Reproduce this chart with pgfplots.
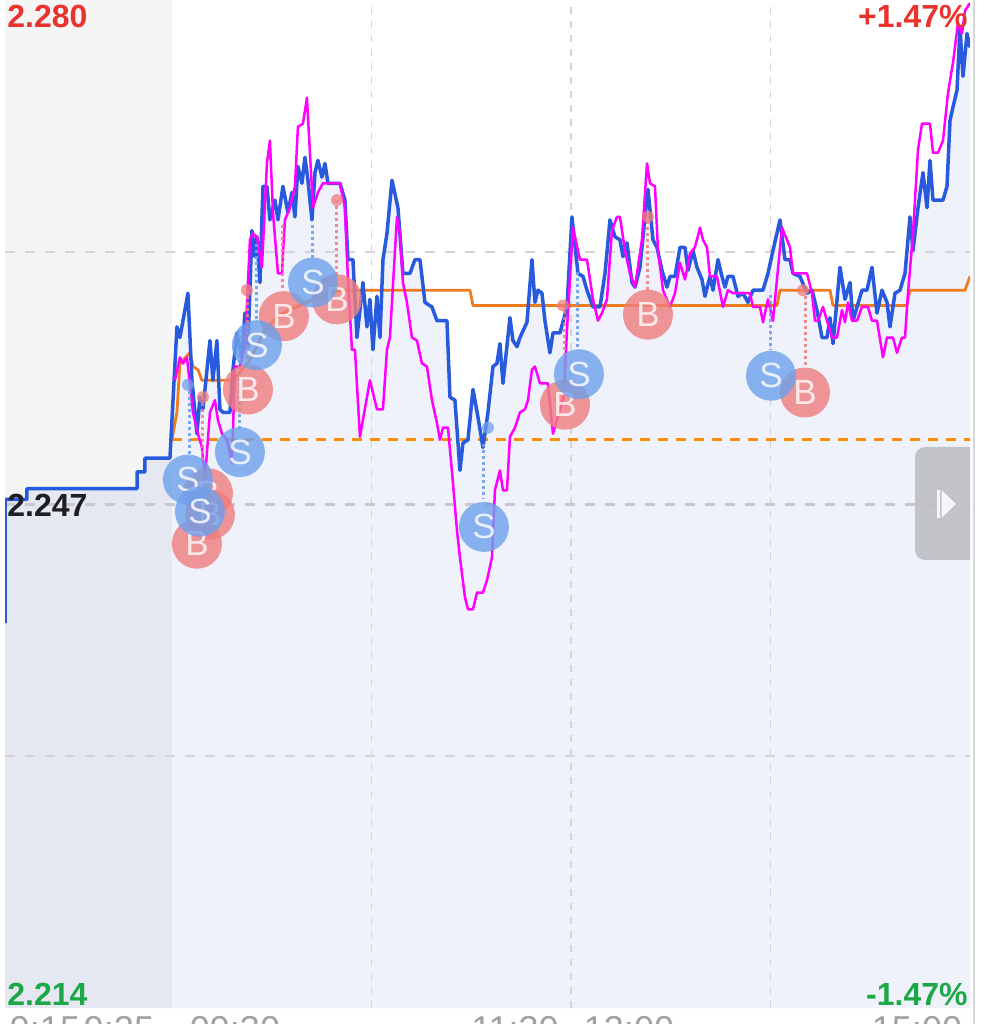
\documentclass[border=0pt]{standalone}
\usepackage{fontspec}
\setmainfont{Liberation Sans}
\usepackage{pgfplots}
\pgfplotsset{compat=1.18}
\usepackage{pgfplotstable}

\definecolor{lav}{RGB}{239,242,251}
\definecolor{pblue}{RGB}{40,90,222}
\definecolor{pmag}{RGB}{255,0,255}
\definecolor{pora}{RGB}{240,122,30}
\definecolor{dora}{RGB}{255,140,10}
\definecolor{sblue}{RGB}{110,160,235}
\definecolor{bred}{RGB}{240,125,125}
\definecolor{gridc}{RGB}{212,212,218}
\definecolor{midc}{RGB}{200,200,208}
\definecolor{upred}{RGB}{232,52,44}
\definecolor{dngreen}{RGB}{28,168,70}
\definecolor{axgray}{RGB}{160,160,165}
\definecolor{darklbl}{RGB}{30,30,35}
\definecolor{panelc}{RGB}{215,215,220}
\definecolor{handlec}{RGB}{188,190,196}

\pgfplotstableread{
m p
-50.2 2.2392
-50.2 2.2473
-43.6 2.2473
-43.6 2.2480
-10.5 2.2480
-10.5 2.2491
-8.1 2.2491
-8.1 2.2500
-0.6 2.2500
1.50 2.2586
2.41 2.2579
4.81 2.2608
6.02 2.2551
7.52 2.2516
8.42 2.2540
9.32 2.2532
11.43 2.2577
12.33 2.2551
13.53 2.2577
14.44 2.2532
15.34 2.2530
17.44 2.2530
18.35 2.2558
19.55 2.2582
21.05 2.2566
21.95 2.2595
22.86 2.2573
24.06 2.2649
24.96 2.2632
25.56 2.2645
26.47 2.2615
27.37 2.2678
28.57 2.2678
29.47 2.2656
30.98 2.2669
31.88 2.2656
33.38 2.2678
34.89 2.2661
36.09 2.2674
36.99 2.2658
37.89 2.2691
39.10 2.2680
40.00 2.2697
40.90 2.2682
42.11 2.2656
43.01 2.2687
43.91 2.2695
45.11 2.2684
46.02 2.2693
46.92 2.2680
50.53 2.2680
52.03 2.2669
52.93 2.2630
54.44 2.2630
55.64 2.2579
57.44 2.2615
58.65 2.2586
59.55 2.2604
60.45 2.2571
61.65 2.2606
62.56 2.2579
63.46 2.2630
64.66 2.2647
66.17 2.2682
67.97 2.2664
69.47 2.2621
71.58 2.2621
73.08 2.2630
74.59 2.2630
76.09 2.2602
78.20 2.2599
79.70 2.2590
82.71 2.2590
83.61 2.2540
85.11 2.2538
86.62 2.2492
87.52 2.2510
89.02 2.2512
90.53 2.2545
92.03 2.2527
93.53 2.2507
95.04 2.2530
96.54 2.2560
97.74 2.2562
98.65 2.2575
99.55 2.2549
101.65 2.2592
102.56 2.2577
103.76 2.2573
104.66 2.2579
106.77 2.2589
108.27 2.2630
109.17 2.2602
110.08 2.2610
111.28 2.2608
112.18 2.2590
113.68 2.2569
114.59 2.2582
116.69 2.2582
118.80 2.2599
120.30 2.2658
122.11 2.2621
123.61 2.2619
124.81 2.2610
126.62 2.2599
128.72 2.2599
130.23 2.2621
131.73 2.2656
133.23 2.2645
134.74 2.2643
135.64 2.2632
136.84 2.2641
138.35 2.2615
139.25 2.2612
140.75 2.2625
142.26 2.2658
143.16 2.2676
144.66 2.2643
145.86 2.2638
147.37 2.2623
148.87 2.2612
149.77 2.2619
151.28 2.2619
152.78 2.2638
154.29 2.2638
155.19 2.2623
156.69 2.2636
157.89 2.2625
159.40 2.2617
160.30 2.2606
161.80 2.2619
162.71 2.2610
164.21 2.2630
165.41 2.2619
166.32 2.2612
167.22 2.2619
168.72 2.2619
170.23 2.2606
171.73 2.2608
173.23 2.2602
174.74 2.2610
177.74 2.2610
179.25 2.2621
180.75 2.2636
182.86 2.2656
184.36 2.2630
185.86 2.2630
186.77 2.2621
188.87 2.2619
190.98 2.2608
192.48 2.2610
193.98 2.2597
195.49 2.2579
196.99 2.2579
197.89 2.2592
198.80 2.2575
200.90 2.2625
202.41 2.2604
203.91 2.2615
204.81 2.2590
206.02 2.2599
207.52 2.2610
209.02 2.2610
210.53 2.2625
212.03 2.2595
213.53 2.2610
215.04 2.2602
215.94 2.2586
217.44 2.2608
218.95 2.2610
220.45 2.2621
221.95 2.2658
222.86 2.2636
224.36 2.2664
225.86 2.2687
227.07 2.2664
227.97 2.2695
228.87 2.2669
231.88 2.2669
233.08 2.2678
233.98 2.2721
234.89 2.2730
236.09 2.2741
236.99 2.2782
237.89 2.2750
239.10 2.2778
240.00 2.2769
}\bluedata

\pgfplotstableread{
m p
0.90 2.2551
2.41 2.2566
3.31 2.2562
4.51 2.2566
6.32 2.2530
7.82 2.2516
9.02 2.2507
9.92 2.2486
11.43 2.2530
12.93 2.2538
13.83 2.2525
15.04 2.2516
16.54 2.2512
18.05 2.2497
18.95 2.2560
20.45 2.2560
21.95 2.2573
23.46 2.2643
24.36 2.2647
25.56 2.2645
27.07 2.2625
28.57 2.2693
29.47 2.2708
30.38 2.2661
31.88 2.2621
33.08 2.2621
33.98 2.2656
35.49 2.2664
36.99 2.2678
37.89 2.2717
39.40 2.2719
40.60 2.2736
41.50 2.2700
42.41 2.2664
43.91 2.2674
45.41 2.2680
50.53 2.2680
52.03 2.2664
52.93 2.2617
54.14 2.2571
55.04 2.2571
56.54 2.2514
59.55 2.2551
61.65 2.2532
63.46 2.2532
64.66 2.2571
65.56 2.2579
67.67 2.2658
68.57 2.2647
69.47 2.2615
70.68 2.2602
72.18 2.2579
73.68 2.2577
75.19 2.2562
76.69 2.2560
78.20 2.2538
79.70 2.2523
80.60 2.2512
81.50 2.2520
83.01 2.2520
84.51 2.2484
85.71 2.2453
86.62 2.2435
88.12 2.2409
89.02 2.2401
90.53 2.2401
91.73 2.2412
93.53 2.2412
94.74 2.2420
96.24 2.2435
97.14 2.2479
98.65 2.2492
99.55 2.2479
100.75 2.2479
101.65 2.2514
103.16 2.2520
104.66 2.2530
106.17 2.2532
107.07 2.2538
108.27 2.2558
109.17 2.2560
110.68 2.2549
113.08 2.2549
114.59 2.2516
117.90 2.2541
118.80 2.2584
120.60 2.2651
122.71 2.2630
124.81 2.2630
126.62 2.2604
128.12 2.2590
129.32 2.2595
130.83 2.2604
132.33 2.2649
133.83 2.2658
134.74 2.2658
136.24 2.2636
137.74 2.2621
139.25 2.2612
141.35 2.2643
142.86 2.2693
143.76 2.2680
145.26 2.2678
146.17 2.2636
147.67 2.2610
149.77 2.2599
151.28 2.2608
152.78 2.2628
154.29 2.2617
155.79 2.2634
157.29 2.2638
158.80 2.2651
159.70 2.2643
160.90 2.2638
161.80 2.2619
163.91 2.2619
165.71 2.2599
167.22 2.2610
168.72 2.2608
173.83 2.2608
174.74 2.2599
176.84 2.2599
177.74 2.2589
179.25 2.2604
180.75 2.2590
181.95 2.2617
183.46 2.2651
184.96 2.2643
185.86 2.2638
186.77 2.2621
190.98 2.2621
192.48 2.2608
193.38 2.2590
194.29 2.2590
195.79 2.2599
196.99 2.2590
198.50 2.2579
200.00 2.2579
201.50 2.2597
202.41 2.2589
203.31 2.2602
204.51 2.2590
206.02 2.2590
207.52 2.2599
209.32 2.2599
210.53 2.2590
212.03 2.2590
213.83 2.2566
215.04 2.2579
216.84 2.2579
218.05 2.2569
219.55 2.2579
220.45 2.2579
221.35 2.2608
222.86 2.2647
224.36 2.2702
225.56 2.2719
227.97 2.2719
228.87 2.2700
230.38 2.2700
231.88 2.2708
233.38 2.2739
234.89 2.2759
236.39 2.2785
237.59 2.2778
238.50 2.2793
240.00 2.2798
}\magdata

\pgfplotstableread{
m p
0.00 2.2512
1.50 2.2530
2.41 2.2562
5.41 2.2569
6.32 2.2560
7.82 2.2558
9.02 2.2551
18.35 2.2551
23.46 2.2564
27.97 2.2584
32.48 2.2594
38.50 2.2600
44.51 2.2606
50.53 2.2610
89.62 2.2610
90.53 2.2600
181.95 2.2600
182.86 2.2610
197.89 2.2610
198.80 2.2600
221.05 2.2600
221.95 2.2610
238.50 2.2610
240.00 2.2619
}\avgdata

\newcommand\lbl{\fontsize{16}{16}\selectfont\bfseries}
\newcommand\tlbl{\fontsize{18}{18}\selectfont}

\begin{document}
\begin{tikzpicture}
\fill[white] (-2.5pt,-8pt) rectangle (492.5pt,504pt);
\begin{axis}[name=ax, at={(0pt,0pt)}, anchor=south west, scale only axis,
  width=482.5pt, height=504pt, xmin=-50.2, xmax=240, ymin=2.214, ymax=2.280,
  hide axis, unbounded coords=jump]
% area under the price line
\addplot[fill=lav, draw=none, forget plot] table[x=m,y=p] {\bluedata}
  -- (axis cs:240,2.214) -- (axis cs:-50.2,2.214) -- cycle;
% pre-market shading
\fill[black, opacity=0.04] (axis cs:-50.2,2.214) rectangle (axis cs:0,2.280);
% grid
\draw[gridc, line width=0.6pt, dash pattern=on 3.5pt off 3.5pt] (axis cs:60,2.214) -- (axis cs:60,2.280);
\draw[gridc, line width=0.6pt, dash pattern=on 3.5pt off 3.5pt] (axis cs:120,2.214) -- (axis cs:120,2.280);
\draw[gridc, line width=0.6pt, dash pattern=on 3.5pt off 3.5pt] (axis cs:180,2.214) -- (axis cs:180,2.280);
\draw[gridc, line width=1pt, dash pattern=on 5pt off 5pt] (axis cs:-50.2,2.2635) -- (axis cs:240,2.2635);
\draw[gridc, line width=1pt, dash pattern=on 5pt off 5pt] (axis cs:-50.2,2.2305) -- (axis cs:240,2.2305);
\draw[midc, line width=1.5pt, dash pattern=on 5pt off 5pt] (axis cs:-50.2,2.247) -- (axis cs:240,2.247);
% dashed orange level
\addplot[dora, line width=1.5pt, dash pattern=on 5pt off 4pt] coordinates {(0,2.2512) (240,2.2512)};
% average line
\addplot[pora, line width=1.4pt, line join=round] table[x=m,y=p] {\avgdata};
% price line
\addplot[pblue, line width=1.75pt, line join=round] table[x=m,y=p] {\bluedata};
% comparison line
\addplot[pmag, line width=1.25pt, line join=round] table[x=m,y=p] {\magdata};
% connectors
\addplot[bred, opacity=0.85, line width=1.5pt, dash pattern=on 1.5pt off 1.5pt] coordinates {
(9.32,2.2540) (9.32,2.2497) (9.32,nan)
(22.86,2.2610) (22.86,2.2561) (22.86,nan)
(33.38,2.2653) (33.38,2.2610) (33.38,nan)
(49.62,2.2669) (49.62,2.2620) (49.62,nan)
(118.20,2.2600) (118.20,2.2552) (118.20,nan)
(143.16,2.2659) (143.16,2.2610) (143.16,nan)
(190.38,2.2610) (190.38,2.2559)};
\addplot[sblue, opacity=0.9, line width=1.5pt, dash pattern=on 1.5pt off 1.5pt] coordinates {
(5.41,2.2548) (5.41,2.2500) (5.41,nan)
(20.45,2.2584) (20.45,2.2518) (20.45,nan)
(25.56,2.2640) (25.56,2.2590) (25.56,nan)
(42.41,2.2653) (42.41,2.2631) (42.41,nan)
(93.83,2.2509) (93.83,2.2473) (93.83,nan)
(122.11,2.2622) (122.11,2.2571) (122.11,nan)
(180.15,2.2607) (180.15,2.2571)};
% small trade dots
\addplot[only marks, mark=*, mark size=3pt, mark options={bred, draw opacity=0, fill opacity=0.75}] coordinates {
(9.32,2.2540) (22.56,2.2610) (49.62,2.2669) (117.59,2.2600) (143.16,2.2658) (189.77,2.2610)};
\addplot[only marks, mark=*, mark size=3pt, mark options={sblue, draw opacity=0, fill opacity=0.75}] coordinates {
(4.81,2.2548) (95.04,2.2520)};
% B markers
\addplot[only marks, mark=*, mark size=12.5pt,
  mark options={bred, draw opacity=0, fill opacity=0.8},
  nodes near coords, point meta=explicit symbolic,
  every node near coord/.append style={anchor=center, text=white, inner sep=0pt, font=\fontsize{17.5}{17.5}\selectfont}]
  coordinates {
(10.83,2.2477) [B]
(11.43,2.2463) [B]
(7.52,2.2444) [B]
(22.86,2.2545) [B]
(33.68,2.2593) [B]
(49.62,2.2604) [B]
(118.20,2.2535) [B]
(143.16,2.2594) [B]
(190.38,2.2543) [B]
};
% S markers
\addplot[only marks, mark=*, mark size=12.5pt,
  mark options={sblue, draw opacity=0, fill opacity=0.8},
  nodes near coords, point meta=explicit symbolic,
  every node near coord/.append style={anchor=center, text=white, inner sep=0pt, font=\fontsize{17.5}{17.5}\selectfont}]
  coordinates {
(4.81,2.2486) [S]
(8.42,2.2465) [S]
(20.45,2.2504) [S]
(25.56,2.2574) [S]
(42.41,2.2615) [S]
(93.83,2.2455) [S]
(122.41,2.2555) [S]
(180.15,2.2554) [S]
};
\end{axis}
% labels
\node[anchor=north west, inner sep=0pt, text=upred, font=\lbl] at (1pt,501.5pt) {2.280};
\node[anchor=north east, inner sep=0pt, text=upred, font=\lbl] at (481.5pt,501.5pt) {+1.47\%};
\node[anchor=base west, inner sep=0pt, text=darklbl, font=\lbl] at (1pt,245.5pt) {2.247};
\node[anchor=base west, inner sep=0pt, text=dngreen, font=\lbl] at (1pt,1.5pt) {2.214};
\node[anchor=base east, inner sep=0pt, text=dngreen, font=\lbl] at (481.5pt,1.5pt) {-1.47\%};
% time labels (cut off at the bottom edge)
\node[anchor=north, inner sep=0pt, text=axgray, font=\tlbl] at (20pt,-4pt) {9:15};
\node[anchor=north, inner sep=0pt, text=axgray, font=\tlbl] at (57pt,-4pt) {9:25};
\node[anchor=north, inner sep=0pt, text=axgray, font=\tlbl] at (115pt,-4pt) {09:30};
\node[anchor=north, inner sep=0pt, text=axgray, font=\tlbl] at (255pt,-4pt) {11:30};
\node[anchor=north, inner sep=0pt, text=axgray, font=\tlbl] at (312pt,-4pt) {13:00};
\node[anchor=north, inner sep=0pt, text=axgray, font=\tlbl] at (456pt,-4pt) {15:00};
% right panel edge
\draw[panelc, line width=1pt] (484.5pt,-8pt) -- (484.5pt,504pt);
% slide handle
\fill[handlec, opacity=0.9] (482.5pt,280.5pt) [rounded corners=5pt] -- (455pt,280.5pt) -- (455pt,224pt) [sharp corners] -- (482.5pt,224pt) -- cycle;
\fill[white, opacity=0.85] (466pt,245pt) rectangle (467.3pt,259pt);
\fill[white, opacity=0.85] (468.3pt,245pt) -- (468.3pt,259pt) -- (475.5pt,252pt) -- cycle;
\pgfresetboundingbox
\path[use as bounding box] (-2.5pt,-8pt) rectangle (492.5pt,504pt);
\end{tikzpicture}
\end{document}
